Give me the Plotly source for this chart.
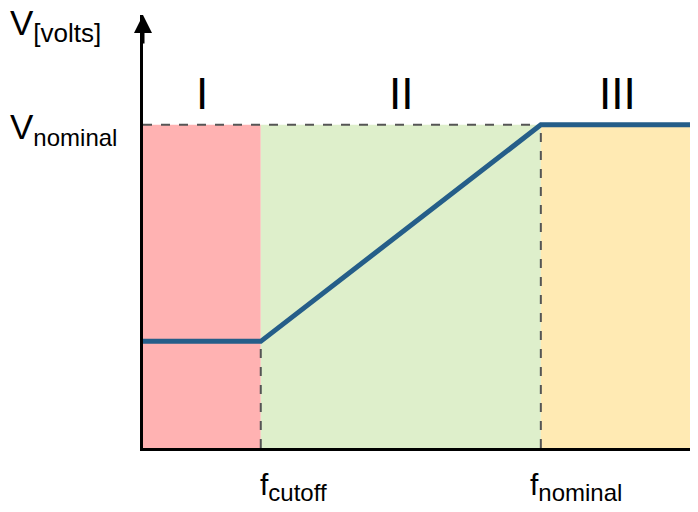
import plotly.graph_objects as go

# frequency in units of f_nominal, voltage in units of V_nominal
freq = [0.0, 0.296, 1.0, 1.385]
volts = [0.33, 0.33, 1.0, 1.0]
region_edges = [0.0, 0.296, 1.0, 1.385]
region_names = ["I", "II", "III"]
region_colors = ["#FFB2B2", "#DEEFCB", "#FFEAB3"]
f_cutoff, f_nominal = 0.296, 1.0
v_low, v_nominal = 0.33, 1.0
x_max, y_max = 1.385, 1.34
f_labels = [(f_cutoff, "cutoff", -3), (f_nominal, "nominal", -13)]

font = "Liberation Sans, Arial, sans-serif"
PLOT_W, PLOT_H = 551, 433  # plot area in pixels
MARGIN_L = 135

fig = go.Figure()

# coloured regions + roman numerals
for i, name in enumerate(region_names):
    fig.add_shape(type="rect", xref="x", yref="y",
                  x0=region_edges[i], x1=region_edges[i + 1], y0=0, y1=v_nominal,
                  fillcolor=region_colors[i], line_width=0, layer="below")
    fig.add_annotation(x=(region_edges[i] + region_edges[i + 1]) / 2, y=v_nominal,
                       text=name, showarrow=False, yanchor="middle", yshift=31,
                       font=dict(size=44, color="black", family=font))

# dashed guide lines
dash = dict(color="#555555", width=2, dash="dash")
fig.add_trace(go.Scatter(x=[0, f_nominal], y=[v_nominal, v_nominal], mode="lines",
                         line=dash, hoverinfo="skip", showlegend=False))
fig.add_trace(go.Scatter(x=[f_cutoff, f_cutoff], y=[0, v_low], mode="lines",
                         line=dash, hoverinfo="skip", showlegend=False))
fig.add_trace(go.Scatter(x=[f_nominal, f_nominal], y=[0, v_nominal], mode="lines",
                         line=dash, hoverinfo="skip", showlegend=False))

# V/f curve
fig.add_trace(go.Scatter(x=freq, y=volts, mode="lines",
                         line=dict(color="#255E89", width=5), showlegend=False))

# y axis arrow head
fig.add_annotation(x=0, y=y_max, ax=0, ay=30, xref="x", yref="y",
                   text="", showarrow=True, arrowhead=2, arrowsize=1.2,
                   arrowwidth=3, arrowcolor="black")

# axis labels
lbl_x = -MARGIN_L / PLOT_W
fig.add_annotation(xref="paper", yref="paper", x=lbl_x, y=1.0, xanchor="left",
                   yanchor="middle", yshift=-10,
                   text="V<sub><span style='font-size:26px'>[volts]</span></sub>",
                   showarrow=False, font=dict(size=35, color="black", family=font))
fig.add_annotation(xref="paper", x=lbl_x, y=v_nominal, xanchor="left",
                   yanchor="middle", yshift=-4,
                   text="V<sub><span style='font-size:24px'>nominal</span></sub>",
                   showarrow=False, font=dict(size=35, color="black", family=font))
for fx, sub, dx in f_labels:
    fig.add_annotation(x=fx, xref="x", yref="paper", y=0, xanchor="left",
                       yanchor="top", xshift=dx, yshift=-18,
                       text="f<sub><span style='font-size:24px'>%s</span></sub>" % sub,
                       showarrow=False, font=dict(size=30, color="black", family=font))

fig.update_xaxes(range=[0, x_max], showline=True, linecolor="black", linewidth=3,
                 showgrid=False, zeroline=False, showticklabels=False, ticks="")
fig.update_yaxes(range=[0, y_max], showline=True, linecolor="black", linewidth=3,
                 showgrid=False, zeroline=False, showticklabels=False, ticks="")
# page body has an 8px margin, so the figure is shifted 8px right and down
fig.update_layout(width=690, height=504, margin=dict(l=MARGIN_L, r=4, t=7, b=64),
                  paper_bgcolor="white", plot_bgcolor="white", showlegend=False)

fig.write_html("out.html")
